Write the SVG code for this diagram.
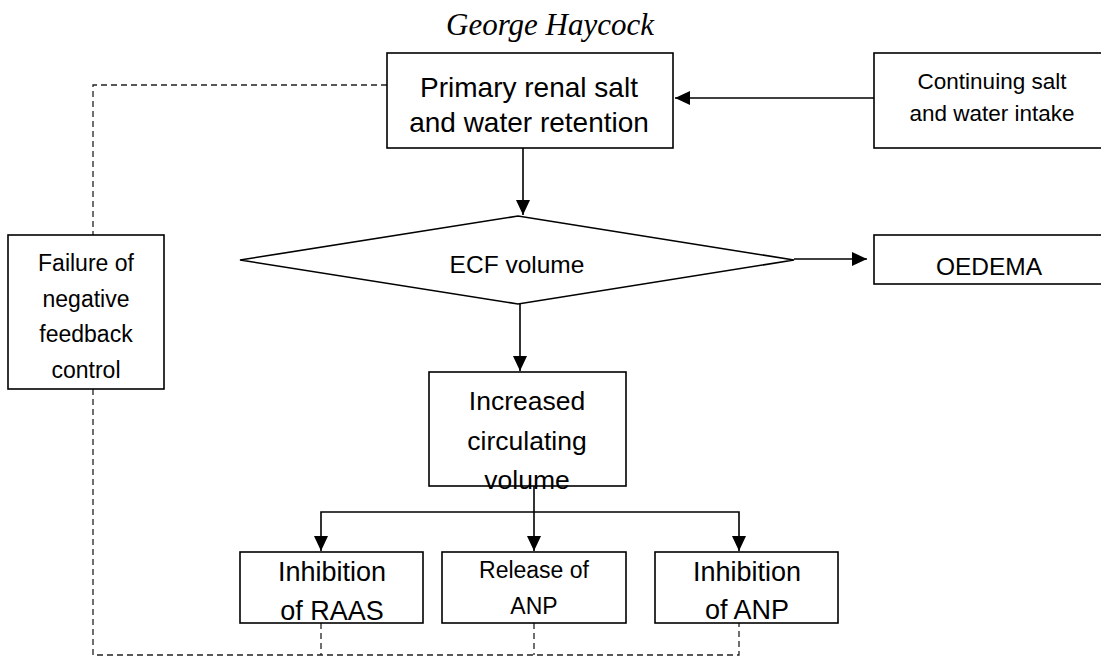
<svg xmlns="http://www.w3.org/2000/svg" width="1101" height="657" viewBox="0 0 1101 657">
<style>
.box{fill:#fff;stroke:#000;stroke-width:1.6}
.t{font-family:"Liberation Sans",Arial,sans-serif;fill:#000;text-anchor:middle}
.c{fill:none;stroke:#000;stroke-width:1.6}
.d{fill:none;stroke:#222;stroke-width:1.3;stroke-dasharray:6 4}
</style>
<defs>
<marker id="ah" markerUnits="userSpaceOnUse" markerWidth="16" markerHeight="14" refX="15" refY="7" orient="auto">
<path d="M0,0 L15,7 L0,14 Z" fill="#000"/>
</marker>
</defs>
<text x="550" y="35" font-family="'Liberation Serif','Times New Roman',serif" font-style="italic" font-size="31" text-anchor="middle">George Haycock</text>
<g id="connectors">
<path class="c" d="M874,98 L675,98" marker-end="url(#ah)"/>
<path class="c" d="M523,148 L523,215" marker-end="url(#ah)"/>
<path class="c" d="M794,259 L867,259" marker-end="url(#ah)"/>
<path class="c" d="M520,304 L520,371" marker-end="url(#ah)"/>
<path class="c" d="M534,486 L534,551" marker-end="url(#ah)"/>
<path class="c" d="M321,530 L321,512 L739,512 L739,530"/>
<path class="c" d="M321,530 L321,551" marker-end="url(#ah)"/>
<path class="c" d="M739,530 L739,551" marker-end="url(#ah)"/>
<path class="d" d="M387,85 L93,85 L93,235"/>
<path class="d" d="M93,389 L93,655 L739,655 L739,623"/>
<path class="d" d="M321,623 L321,655"/>
<path class="d" d="M534,623 L534,655"/>
</g>
<g id="primary">
<rect class="box" x="387" y="53" width="286" height="95"/>
<text class="t" x="529" y="97" font-size="28">Primary renal salt</text>
<text class="t" x="529" y="132" font-size="28">and water retention</text>
</g>
<g id="intake">
<rect class="box" x="874" y="53" width="240" height="95"/>
<text class="t" x="992" y="89" font-size="22.5">Continuing salt</text>
<text class="t" x="992" y="121" font-size="22.5">and water intake</text>
</g>
<g id="ecf">
<polygon class="box" points="240,260 518,216 794,260 518,304"/>
<text class="t" x="517" y="273" font-size="24.5">ECF volume</text>
</g>
<g id="oedema">
<rect class="box" x="874" y="235" width="240" height="49"/>
<text class="t" x="989" y="275" font-size="24.5">OEDEMA</text>
</g>
<g id="failure">
<rect class="box" x="8" y="235" width="156" height="154"/>
<text class="t" x="86" y="271" font-size="23">Failure of</text>
<text class="t" x="86" y="307" font-size="23">negative</text>
<text class="t" x="86" y="342" font-size="23">feedback</text>
<text class="t" x="86" y="378" font-size="23">control</text>
</g>
<g id="increased">
<rect class="box" x="429" y="372" width="197" height="114"/>
<text class="t" x="527" y="410" font-size="26.5">Increased</text>
<text class="t" x="527" y="450" font-size="26.5">circulating</text>
<text class="t" x="527" y="489" font-size="26.5">volume</text>
</g>
<g id="raas">
<rect class="box" x="240" y="552" width="183" height="71"/>
<text class="t" x="332" y="581" font-size="27">Inhibition</text>
<text class="t" x="332" y="620" font-size="27">of RAAS</text>
</g>
<g id="release">
<rect class="box" x="442" y="552" width="184" height="71"/>
<text class="t" x="534" y="578" font-size="23">Release of</text>
<text class="t" x="534" y="614" font-size="23">ANP</text>
</g>
<g id="inhibanp">
<rect class="box" x="655" y="552" width="183" height="71"/>
<text class="t" x="747" y="581" font-size="27">Inhibition</text>
<text class="t" x="747" y="619" font-size="27">of ANP</text>
</g>
</svg>
